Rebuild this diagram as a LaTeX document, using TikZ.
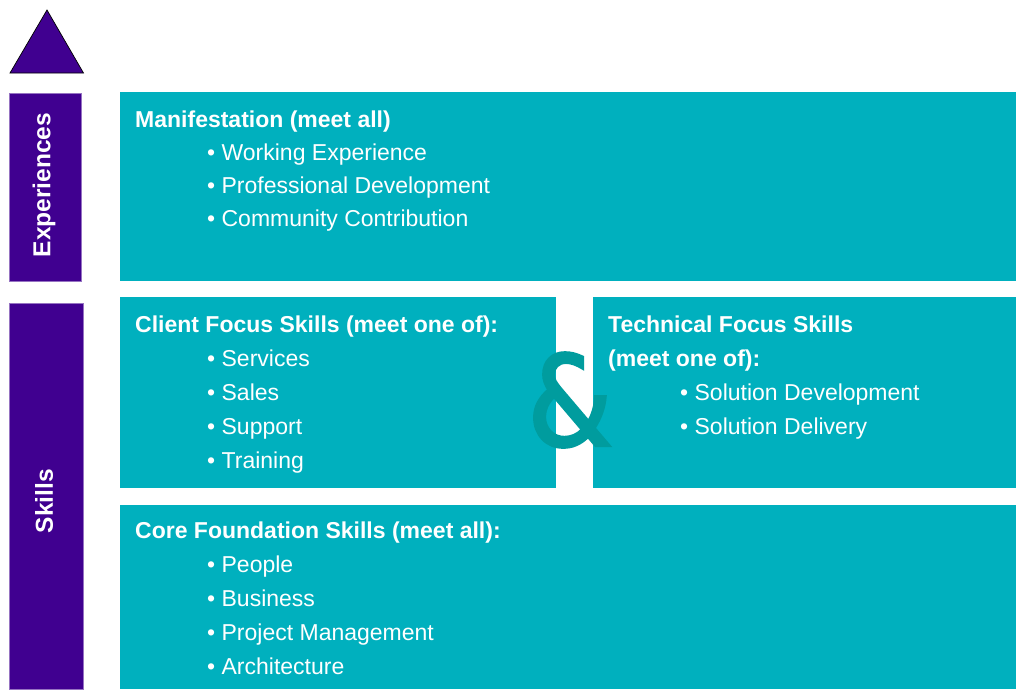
\documentclass[tikz,border=0pt]{standalone}
\usepackage{fontspec}
\setmainfont{Liberation Sans}
\newfontfamily\ampfont[FakeBold=2.5]{DejaVu Sans}
\definecolor{tealbox}{RGB}{0,176,190}
\definecolor{purp}{RGB}{64,0,144}
\definecolor{ampcol}{RGB}{0,156,158}
\begin{document}
\begin{tikzpicture}[x=1pt,y=-1pt,
  box/.style={fill=tealbox},
  bar/.style={fill=purp,draw=purp!55!white,line width=0.6pt},
  title/.style={anchor=base west,inner sep=0pt,text=white,font=\fontsize{23}{27}\selectfont\bfseries},
  item/.style={anchor=base west,inner sep=0pt,text=white,font=\fontsize{23}{27}\selectfont},
  vlabel/.style={rotate=90,text=white,inner sep=0pt,font=\fontsize{24.5}{28}\selectfont\bfseries}]
\useasboundingbox (0,0) rectangle (1016,689);
\fill[white] (0,0) rectangle (1016,689);
% triangle
\filldraw[fill=purp,draw=black,line width=0.7pt] (47,10) -- (83.5,73) -- (10,73) -- cycle;
% side bars
\filldraw[bar] (9.5,93) rectangle (81.5,281);
\filldraw[bar] (9.5,303.5) rectangle (83,689.5);
\node[vlabel] (exp) at (44,185) {Experiences};
\node[vlabel] (skl) at (44,501) {Skills};
% teal boxes
\fill[box] (120,91.5) rectangle (1016,281);
\fill[box] (120,297) rectangle (556,488);
\fill[box] (593,297) rectangle (1016,488);
\fill[box] (120,505) rectangle (1016,689);
% manifestation
\node[title] (mt) at (135,127) {Manifestation (meet all)};
\node[item] (m1) at (207,160) {\textbullet\ Working Experience};
\node[item] (m2) at (207,193) {\textbullet\ Professional Development};
\node[item] (m3) at (207,226) {\textbullet\ Community Contribution};
% client
\node[title] (ct) at (135,332) {Client Focus Skills (meet one of):};
\node[item] (c1) at (207,366) {\textbullet\ Services};
\node[item] (c2) at (207,400) {\textbullet\ Sales};
\node[item] (c3) at (207,434) {\textbullet\ Support};
\node[item] (c4) at (207,468) {\textbullet\ Training};
% technical
\node[title] (tt) at (608,332) {Technical Focus Skills};
\node[title] (tt2) at (608,366) {(meet one of):};
\node[item] (t1) at (680,400) {\textbullet\ Solution Development};
\node[item] (t2) at (680,434) {\textbullet\ Solution Delivery};
% core
\node[title] (ft) at (135,538) {Core Foundation Skills (meet all):};
\node[item] (f1) at (207,572) {\textbullet\ People};
\node[item] (f2) at (207,606) {\textbullet\ Business};
\node[item] (f3) at (207,640) {\textbullet\ Project Management};
\node[item] (f4) at (207,674) {\textbullet\ Architecture};
% ampersand
\node[text=ampcol,inner sep=0pt,xscale=0.87,font=\fontsize{125}{125}\selectfont\ampfont] (amp) at (570,400) {\&};
\end{tikzpicture}
\end{document}
